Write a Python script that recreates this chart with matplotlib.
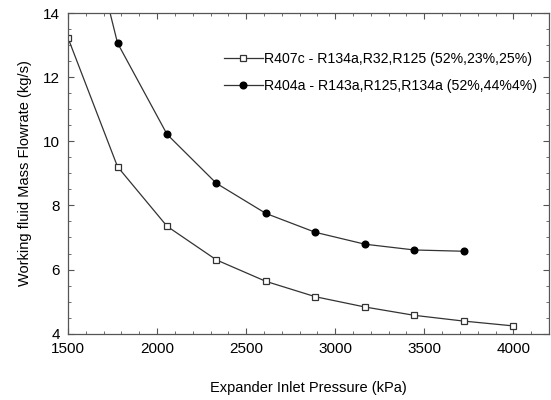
import matplotlib.pyplot as plt
from matplotlib.ticker import MultipleLocator

plt.rcParams['font.family'] = ['Liberation Sans', 'DejaVu Sans']

pressure = [1500, 1778, 2056, 2333, 2611, 2889, 3167, 3444, 3722, 4000]
r407c = [13.23, 9.21, 7.35, 6.30, 5.63, 5.15, 4.83, 4.57, 4.39, 4.24]
r404a = [19.3, 13.07, 10.22, 8.69, 7.75, 7.16, 6.79, 6.61, 6.57]

label_407 = "R407c - R134a,R32,R125 (52%,23%,25%)"
label_404 = "R404a - R143a,R125,R134a (52%,44%4%)"

fig = plt.figure(figsize=(5.51, 4.0), dpi=100)
ax = fig.add_axes([0.1234, 0.166, 0.8730, 0.801])

ax.plot(pressure, r407c, "-", color="#333333", lw=0.9, marker="s", ms=4.5,
        mfc="white", mec="#333333", mew=0.9, label=label_407)
ax.plot(pressure[:len(r404a)], r404a, "-", color="#333333", lw=0.9, marker="o",
        ms=4.8, mfc="black", mec="black", label=label_404)

ax.set_xlim(1500, 4200)
ax.set_ylim(4, 14)
ax.xaxis.set_major_locator(MultipleLocator(500))
ax.xaxis.set_minor_locator(MultipleLocator(100))
ax.yaxis.set_major_locator(MultipleLocator(2))
ax.yaxis.set_minor_locator(MultipleLocator(0.5))
ax.tick_params(which="both", direction="in", top=True, right=True,
               labelsize=11, color="#555555")
ax.tick_params(which="major", length=4, pad=6)
ax.tick_params(which="minor", length=2.5)
for s in ax.spines.values():
    s.set_color("#555555")
    s.set_linewidth(0.9)

ax.set_xlabel("Expander Inlet Pressure (kPa)", fontsize=10.5, labelpad=18)
ax.set_ylabel("Working fluid Mass Flowrate (kg/s)", fontsize=10.5, labelpad=8)

ax.legend(loc="upper left", bbox_to_anchor=(0.297, 0.92), frameon=False,
          fontsize=10.15, handlelength=2.8, handletextpad=0.1, labelspacing=0.95)

fig.savefig("out.png", dpi=100)
